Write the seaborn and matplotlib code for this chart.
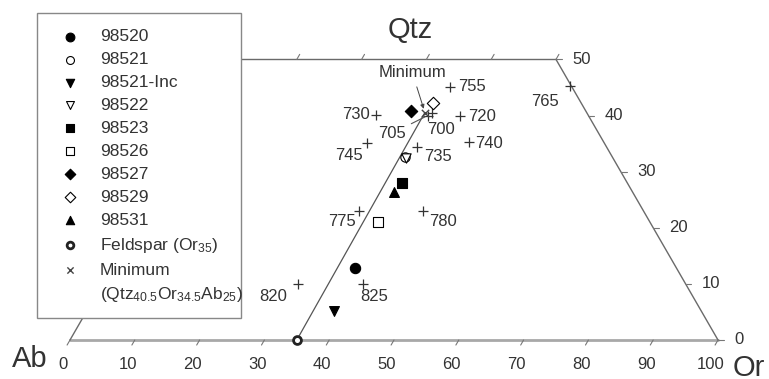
import numpy as np
import pandas as pd
import seaborn as sns
import matplotlib
matplotlib.use('Agg')
import matplotlib.pyplot as plt
from matplotlib.patches import Rectangle
from matplotlib.lines import Line2D

# data (Or, Qtz in wt% normative, Ab = 100 - Or - Qtz)
samples = ['98520', '98521', '98521-Inc', '98522', '98523', '98526', '98527', '98529', '98531']
sample_or = [37.6, 35.4, 38.1, 35.6, 37.2, 37.0, 32.2, 34.9, 36.8]
sample_qtz = [12.8, 32.6, 5.2, 32.4, 28.0, 21.0, 40.8, 42.2, 26.4]
feldspar_or = [35.0]
feldspar_qtz = [0.0]
minimum_or = [34.5]
minimum_qtz = [40.5]
temps = ['700', '705', '720', '730', '735', '740', '745', '755', '765', '775', '780', '820', '825']
temp_or = [35.6, 35.2, 40.2, 27.2, 36.3, 44.0, 28.3, 36.1, 54.5, 33.1, 43.0, 30.2, 40.2]
temp_qtz = [40.5, 40.0, 39.9, 40.1, 34.4, 35.3, 35.1, 45.1, 45.3, 23.0, 23.0, 10.0, 10.0]
ticks = [0, 10, 20, 30, 40, 50, 60, 70, 80, 90, 100]
qtz_ticks = [0, 10, 20, 30, 40, 50]

def tern(o, q):
    o = np.asarray(o, float); q = np.asarray(q, float)
    return o + q / 2, q * np.sqrt(3) / 2

sns.set_style('white')
plt.rcParams['font.family'] = ['Liberation Sans', 'DejaVu Sans']
plt.rcParams['mathtext.default'] = 'regular'
txt = '#333333'

fig = plt.figure(figsize=(7.69, 3.79), dpi=100)
ax = fig.add_axes([0, 0, 1, 1])
ax.set_xlim(-70 / 6.48, (769 - 70) / 6.48)
ax.set_ylim(-(379 - 340) / 6.48, 340 / 6.48)
ax.axis('off')

# frame of the truncated ternary
h = 50 * np.sqrt(3) / 2
ax.plot([0, 100], [0, 0], color='#a8a8a8', lw=2, zorder=1)
ax.plot([100, 75], [0, h], color='#6a6a6a', lw=1, zorder=1)
ax.plot([25, 75], [h, h], color='#6a6a6a', lw=1, zorder=1)
ax.plot([0, 25], [0, h], color='#6a6a6a', lw=1, zorder=1)
L = 0.9
for v in ticks:
    ax.plot([v, v - 0.5 * L], [0, -0.866 * L], color='#777', lw=0.8)
    ax.text(v - 1.1, -3.8, str(v), ha='center', va='center', fontsize=12, color=txt)
for v in [0, 10, 20, 30, 40, 50]:
    x0, y0 = tern(v, 50)
    ax.plot([x0, x0 + 0.5 * L], [y0, y0 + 0.866 * L], color='#777', lw=0.8)
for q in qtz_ticks:
    x0, y0 = tern(100 - q, q)
    ax.plot([x0, x0 + L], [y0, y0], color='#777', lw=0.8)
    ax.text(x0 + L + 1.6, y0, str(q), ha='left', va='center', fontsize=12, color=txt)
ax.text(52.5, 47.8, 'Qtz', ha='center', va='center', fontsize=21, color=txt)
ax.text(-6.25, -2.9, 'Ab', ha='center', va='center', fontsize=21, color=txt)
ax.text(102.3, -4.3, 'Or', ha='left', va='center', fontsize=21, color=txt)

# tie line feldspar -> minimum
fx, fy = tern(feldspar_or, feldspar_qtz)
mx, my = tern(minimum_or, minimum_qtz)
ax.plot([fx[0], mx[0]], [fy[0], my[0]], color='#555', lw=0.9, zorder=2)

# samples
sx, sy = tern(sample_or, sample_qtz)
df = pd.DataFrame({'sample': samples, 'x': sx, 'y': sy})
styles = {
    '98520': ('o', 'black', 55),
    '98521': ('o', 'white', 45),
    '98521-Inc': ('v', 'black', 50),
    '98522': ('v', 'white', 45),
    '98523': ('s', 'black', 42),
    '98526': ('s', 'white', 42),
    '98527': ('D', 'black', 40),
    '98529': ('D', 'white', 40),
    '98531': ('^', 'black', 50),
}
for s in samples:
    m, fc, size = styles[s]
    sns.scatterplot(data=df[df['sample'] == s], x='x', y='y', marker=m, s=size,
                    facecolor=fc, edgecolor='black', linewidth=0.8, label=s, ax=ax, zorder=4)
sns.scatterplot(x=fx, y=fy, marker='o', s=32, facecolor='white', edgecolor='#222',
                linewidth=2, label='Feldspar (Or$_{35}$)', ax=ax, zorder=4)
sns.scatterplot(x=mx, y=my, marker='x', s=28, color='#444', linewidth=1,
                label='Minimum', ax=ax, zorder=4)

# experimental minima
tx, ty = tern(temp_or, temp_qtz)
sns.scatterplot(x=tx, y=ty, marker='+', s=45, color='#333', linewidth=0.9, ax=ax,
                legend=False, zorder=3)
offsets = {'700': (9, -17), '705': (-36, -18), '720': (22, 0), '730': (-20, 0),
           '735': (21, -10), '740': (20, -2), '745': (-18, -12), '755': (22, 0),
           '765': (-25, -16), '775': (-17, -11), '780': (20, -11), '820': (-25, -13),
           '825': (11, -13)}
for t, x0, y0 in zip(temps, tx, ty):
    kw = {}
    if t == '705':
        kw['arrowprops'] = dict(arrowstyle='-', color='#555', lw=0.8, shrinkA=2, shrinkB=2)
    ax.annotate(t, (x0, y0), xytext=offsets[t], textcoords='offset pixels',
                ha='center', va='center', fontsize=12, color=txt, **kw)

ax.annotate('Minimum', (mx[0] - 0.1, my[0] + 0.4), xytext=(-12, 38), textcoords='offset pixels',
            ha='center', va='center', fontsize=12, color=txt,
            arrowprops=dict(arrowstyle='-|>', color='#444', lw=0.7, mutation_scale=6, shrinkA=3, shrinkB=1))

# legend box
box = Rectangle((37 / 769, 1 - 318 / 379), 204 / 769, 305 / 379, transform=fig.transFigure,
                facecolor='white', edgecolor='#888', lw=1, zorder=9, clip_on=False)
ax.add_patch(box)
handles, labels = ax.get_legend_handles_labels()
handles.append(Line2D([], [], linestyle='none'))
labels.append('(Qtz$_{40.5}$Or$_{34.5}$Ab$_{25}$)')
leg = ax.legend(handles, labels, loc='upper left', bbox_to_anchor=(52.6 / 769, 1 - 29 / 379),
                bbox_transform=fig.transFigure, borderaxespad=0, borderpad=0, fontsize=12.5,
                frameon=False, handlelength=2, handletextpad=0.73, labelspacing=0.45,
                markerscale=0.85)
leg.set_zorder(10)
for t in leg.get_texts():
    t.set_color(txt)

fig.savefig('out.png', dpi=100)
